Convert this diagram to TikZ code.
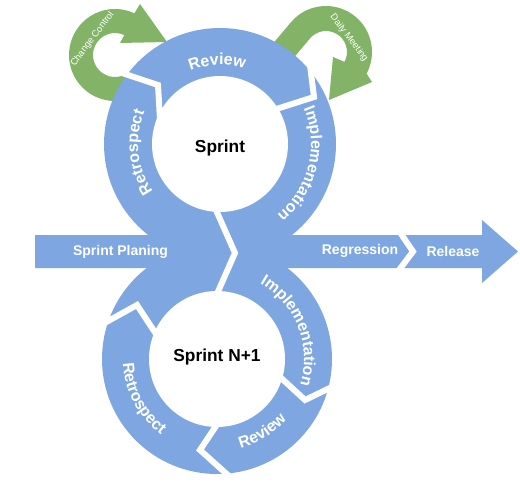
\documentclass[tikz,border=0pt]{standalone}
\usepackage{fontspec}
\setmainfont{Liberation Sans}
\usetikzlibrary{calc,decorations.text}
\definecolor{sprintblue}{HTML}{7EA6E0}
\definecolor{sprintgreen}{HTML}{82B366}
\newcommand\ringfont{\fontsize{12}{14}\selectfont\bfseries}

\begin{document}
\begin{tikzpicture}[x=0.75pt,y=0.75pt,
  gap/.style={draw=white,line width=4.5pt,line join=miter},
  band label/.style={text=white,font=\fontsize{10.5}{12}\selectfont\bfseries},
  center label/.style={text=black,font=\fontsize{13}{15}\selectfont\bfseries},
  green label/.style={text=white,font=\fontsize{7}{8}\selectfont},
  ring label/.style={decorate,decoration={text along path,text color=white,
    text align=center,text={|\ringfont|#1}}}]
  \useasboundingbox (0,0) rectangle (520,483);
  \coordinate (U) at (220,339);
  \coordinate (L) at (217,124);
  \coordinate (C1) at (115,428);
  \coordinate (C2) at (326,431);
  % green arrows
  \fill[sprintgreen] ($(C1)+(-50:46)$) arc[start angle=-50,end angle=-295,radius=46]
    -- (140,479) -- (167,441) -- (120,440)
    -- ($(C1)+(65:22)$) arc[start angle=65,end angle=310,radius=22] -- cycle;
  \fill[sprintgreen] ($(C2)+(140:46)+(230:45)$) -- ($(C2)+(140:46)$)
    arc[start angle=140,end angle=-28,radius=46]
    -- (372,401) -- (329,383) -- (333,426)
    -- ($(C2)+(-28:21)$) arc[start angle=-28,end angle=140,radius=21] -- ++(230:45) -- cycle;
  % blue body
  \fill[sprintblue] (U) circle[radius=116];
  \fill[sprintblue] (L) circle[radius=115];
  \fill[sprintblue] (35,215) -- (35,248) -- (482,248) -- (482,263) -- (518,231.5)
    -- (482,200) -- (482,215) -- cycle;
  % gaps
  \draw[gap] (120.5,410.5) -- (158,398) -- (160,363);
  \draw[gap] (310,418) -- (314,386) -- (270,372);
  \draw[gap] (216,273) -- (235,230) -- (216.5,188);
  \draw[gap] (395,258) -- (413,231.5) -- (393,205);
  \draw[gap] (338,99) -- (305,83) -- (279,107);
  \draw[gap] (220,63) -- (200,33) -- (230,6);
  \draw[gap] (101,158) -- (137,178) -- (158,146);
  \fill[white] (U) circle[radius=68];
  \fill[white] (L) circle[radius=68];
  % labels
  \node[center label] (sprint) at (220,335) {Sprint};
  \node[center label] (sprintnext) at (217,126) {Sprint N+1};
  \node[band label] (planing) at (120.5,231.5) {Sprint Planing};
  \node[band label] (regression) at (360,232) {Regression};
  \node[band label] (release) at (453,232) {Release};
  \node[green label,rotate=53] (change) at (92.5,444) {Change Control};
  \node[green label,rotate=-53] (daily) at (349,445) {Daily Meeting};
  \path[ring label=Review] ($(U)+(140:79)$) arc[start angle=140,end angle=44,radius=79];
  \path[ring label=Retrospect] ($(U)+(240:82)$) arc[start angle=240,end angle=132,radius=82];
  \path[ring label=Implementation] ($(U)+(51:91)$) arc[start angle=51,end angle=-79,radius=91];
  \path[ring label=Implementation] ($(L)+(80:87)$) arc[start angle=80,end angle=-37,radius=87];
  \path[ring label=Review] ($(L)+(-108:92)$) arc[start angle=-108,end angle=-8,radius=92];
  \path[ring label=Retrospect] ($(L)+(158:94)$) arc[start angle=158,end angle=258,radius=94];
\end{tikzpicture}
\end{document}
